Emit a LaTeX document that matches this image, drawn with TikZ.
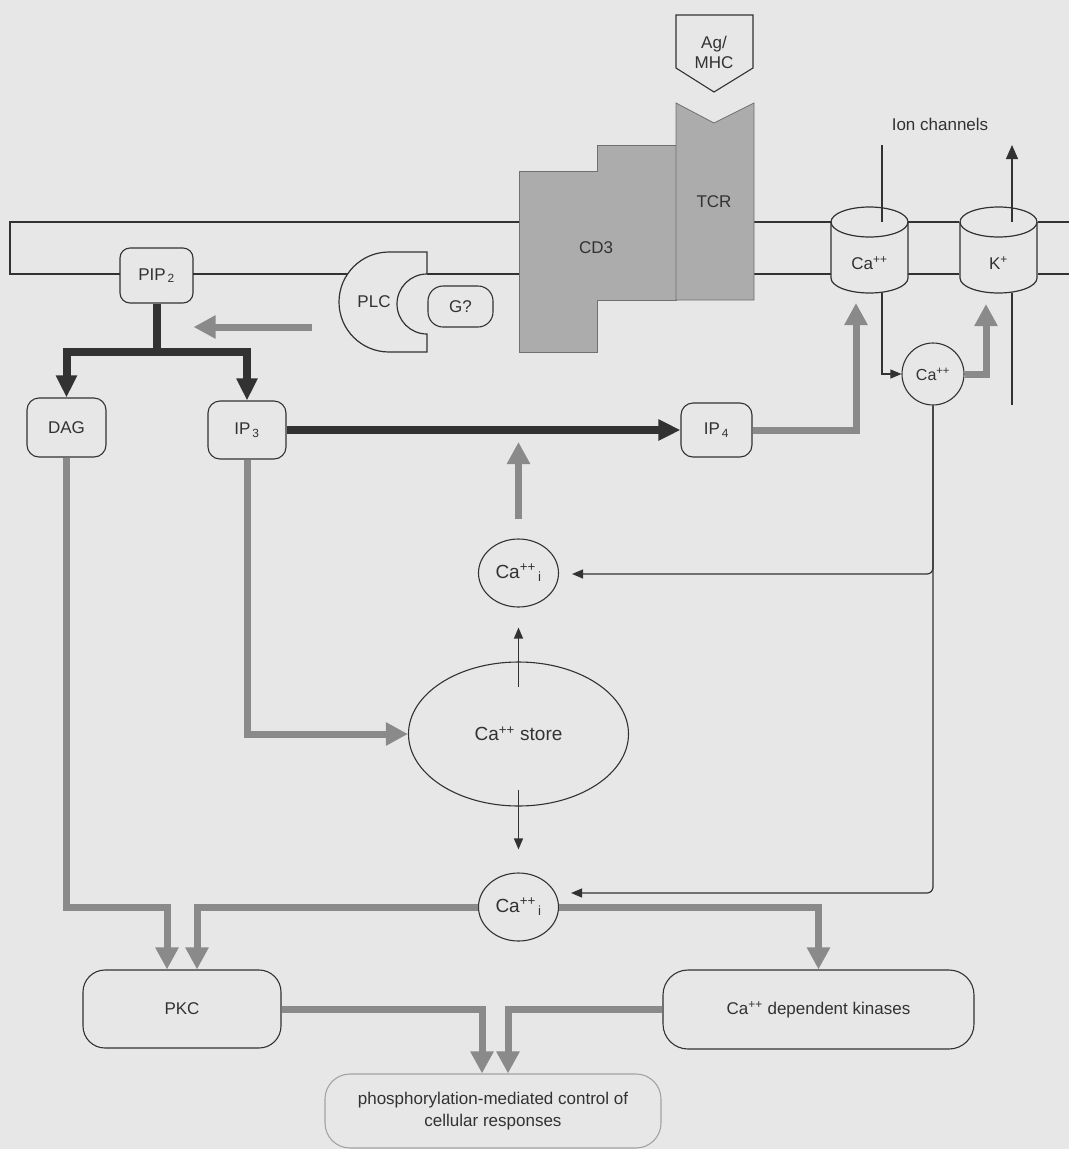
\documentclass[tikz,border=0pt]{standalone}
\usepackage{fontspec}
\setmainfont{Liberation Sans}
\usetikzlibrary{arrows.meta,shapes.geometric}

\definecolor{paper}{RGB}{231,231,231}
\definecolor{ink}{RGB}{50,50,50}
\definecolor{flux}{RGB}{138,138,138}
\definecolor{protein}{RGB}{172,172,172}

\tikzset{
  lbl/.style={font=\fontsize{17}{20}\selectfont, text=ink},
  box/.style={lbl, draw=ink, line width=1.1pt, rounded corners=#1, inner sep=0pt},
  box/.default=10pt,
  oval/.style={lbl, draw=ink, line width=1.1pt, ellipse, inner sep=0pt,
    font=\fontsize{19}{22}\selectfont},
  thinline/.style={draw=ink, line width=1.2pt},
  thinarrow/.style={thinline, -{Triangle[width=9pt,length=11pt]}},
  gryarrow/.style={draw=flux, line width=7pt, -{Triangle[width=22pt,length=22pt]}},
  blkarrow/.style={draw=ink, line width=8pt, -{Triangle[width=20pt,length=22pt]}},
  blkline/.style={draw=ink, line width=8pt},
}

\begin{document}
\begin{tikzpicture}[x=1pt, y=-1pt]
    \fill[paper] (0,0) rectangle (1069,1149);
    \useasboundingbox (0,0) rectangle (1069,1149);

    % membrane
    \draw[thinline] (519,222) -- (10,222) -- (10,274) -- (120,274);
    \draw[thinline] (193,274) -- (347.6,274);
    \draw[thinline] (427,274) -- (519,274);
    \draw[thinline] (754,222) -- (831,222) (754,274) -- (831,274);
    \draw[thinline] (908,222) -- (959,222) (908,274) -- (959,274);
    \draw[thinline] (1038,222) -- (1069,222) (1038,274) -- (1069,274);

    % receptor complex
    \draw[draw=ink, line width=1.1pt, fill=paper] (676,15) -- (753,15) -- (753,68) -- (714,92) -- (676,68) -- cycle;
    \node[lbl, align=center] (agmhc) at (714,52) {Ag/\\MHC};
    \draw[draw=ink!70, line width=0.8pt, fill=protein]
      (519,171) -- (597,171) -- (597,145) -- (676,145) -- (676,300) -- (597,300) -- (597,352) -- (519,352) -- cycle;
    \draw[draw=ink!70, line width=0.8pt, fill=protein]
      (676,103) -- (714,123) -- (754,103) -- (754,300) -- (676,300) -- cycle;
    \node[lbl] (cd3) at (596,248) {CD3};
    \node[lbl] (tcr) at (714,202) {TCR};

    % PLC and G protein
    \draw[thinline, fill=paper] (427,252) -- (389,252) arc[start angle=270, end angle=90, radius=50]
      -- (427,352) -- (427,334) arc[start angle=90, end angle=270, radius=30] -- cycle;
    \node[lbl] (plc) at (374,302) {PLC};
    \node[box=15pt, minimum width=65pt, minimum height=41pt] (gq) at (460.5,306.5) {G?};

    % ion channels
    \foreach \cx/\nm/\txt in {869.5/cachan/Ca\textsuperscript{++}, 998.5/kchan/K\textsuperscript{+}}{
      \draw[thinline, fill=paper] (\cx-38.5,222) -- (\cx-38.5,278)
        arc[start angle=180, end angle=0, x radius=38.5, y radius=15] -- (\cx+38.5,222);
      \draw[thinline] (\cx,222) ellipse [x radius=38.5, y radius=15];
      \node[lbl] (\nm) at (\cx,263) {\txt};
    }
    \node[lbl] (ioncap) at (940,124) {Ion channels};
    \coordinate (catop) at (882,145);
    \coordinate (cabase) at (882,293);
    \coordinate (ktop) at (1012,145);
    \coordinate (kbase) at (1012,293);
    \draw[thinline] (catop) -- (882,222);
    \draw[thinline, -{Triangle[width=12pt,length=14pt]}] (1012,222) -- (ktop);
    \draw[thinline] (kbase) -- (1012,405);

    % nodes
    \node[box, minimum width=73pt, minimum height=55pt] (pip) at (156.5,275.5) {PIP\textsubscript{\,2}};
    \node[box=12pt, minimum width=79pt, minimum height=59pt] (dag) at (66.5,427.5) {DAG};
    \node[box=12pt, minimum width=78pt, minimum height=58pt] (ipthree) at (247,430) {IP\textsubscript{\,3}};
    \node[box=12pt, minimum width=71pt, minimum height=54pt] (ipfour) at (716.5,430) {IP\textsubscript{\,4}};
    \node[oval, circle, minimum size=62pt, font=\fontsize{16}{19}\selectfont] (cacirc) at (933,374) {Ca\textsuperscript{++}};
    \node[oval, minimum width=80pt, minimum height=68pt] (caup) at (518.5,573) {Ca\textsuperscript{++}\textsubscript{\,i}};
    \node[oval, minimum width=220pt, minimum height=144pt] (store) at (518.5,734) {Ca\textsuperscript{++} store};
    \node[oval, minimum width=80pt, minimum height=68pt] (calow) at (518.5,907) {Ca\textsuperscript{++}\textsubscript{\,i}};
    \node[box=22pt, minimum width=198pt, minimum height=78pt] (pkc) at (182,1009) {PKC};
    \node[box=25pt, minimum width=311pt, minimum height=79pt] (kinase) at (818.5,1009.5) {Ca\textsuperscript{++} dependent kinases};
    \node[box=25pt, draw=ink!45, align=center, minimum width=336pt, minimum height=74pt,
      font=\fontsize{17}{22}\selectfont] (resp) at (493,1111)
      {phosphorylation-mediated control of\\cellular responses};

    % hydrolysis of PIP2
    \coordinate (plcfrom) at (312,327);
    \draw[gryarrow] (plcfrom) -- (plcfrom -| pip.east);
    \coordinate (split) at (156.5,352);
    \draw[blkline] (pip.south) -- (split);
    \draw[blkarrow] ([xshift=4pt]split) -| (dag.north);
    \draw[blkarrow] ([xshift=-4pt]split) -| (ipthree.north);
    \draw[blkarrow] (ipthree.east) -- (ipfour.west);

    % calcium fluxes
    \coordinate (cain) at (856,303);
    \coordinate (kinlet) at (986,304);
    \draw[gryarrow] (ipfour.east) -| (cain);
    \draw[thinarrow] (cabase) |- (cacirc.west);
    \draw[gryarrow] (cacirc.east) -| (kinlet);
    \draw[thinarrow, rounded corners=6pt] (cacirc.south) |- ([xshift=13pt,yshift=-1pt]caup.east);
    \draw[thinarrow, rounded corners=6pt] (cacirc.south) |- ([xshift=12pt,yshift=14pt]calow.east);
    \draw[gryarrow, shorten <=19pt, shorten >=12pt] (caup.north) -- (caup.north |- ipthree.east);
    \draw[gryarrow] (ipthree.south) |- (store.west);
    \draw[thinarrow] ([yshift=47pt]store.center) -- ([yshift=-20pt]caup.south);
    \draw[thinarrow] ([yshift=-56pt]store.center) -- ([yshift=23pt]calow.north);

    % kinases
    \coordinate (pkcl) at ([xshift=-15pt]pkc.north);
    \coordinate (pkcr) at ([xshift=15pt]pkc.north);
    \coordinate (respl) at ([xshift=-11pt]resp.north);
    \coordinate (respr) at ([xshift=15pt]resp.north);
    \draw[gryarrow] (dag.south) -- (dag.south |- calow.west) -| (pkcl);
    \draw[gryarrow] (calow.west) -| (pkcr);
    \draw[gryarrow] (calow.east) -| (kinase.north);
    \draw[gryarrow] (pkc.east) -| (respl);
    \draw[gryarrow] (kinase.west) -| (respr);
\end{tikzpicture}
\end{document}
